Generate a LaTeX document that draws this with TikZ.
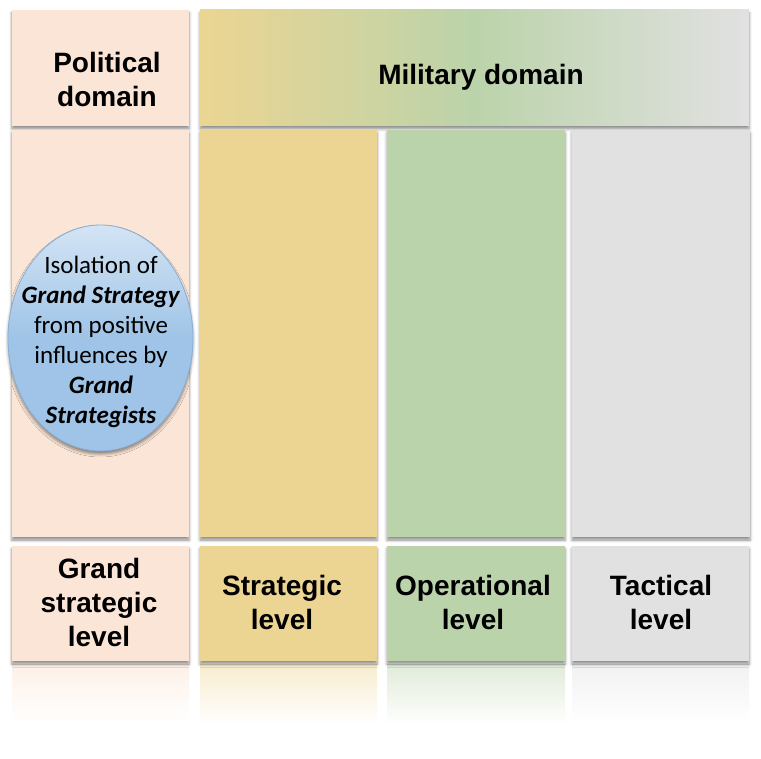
\documentclass[tikz,border=0pt]{standalone}
\usepackage{fontspec}
\setmainfont{Liberation Sans}
\newfontfamily\calibfont{Carlito}
\usetikzlibrary{shadows.blur}

\definecolor{polpeach}{HTML}{FBE5D6}
\definecolor{stratgold}{HTML}{ECD592}
\definecolor{opgreen}{HTML}{BBD3AA}
\definecolor{tacgray}{HTML}{E1E1E1}
\definecolor{ballblue}{HTML}{9FC4E7}
\definecolor{balltop}{HTML}{D3E4F4}
\definecolor{balledge}{HTML}{86AED8}

\tikzset{
    cell/.style={blur shadow={shadow xshift=0pt, shadow yshift=-3pt, shadow blur radius=3pt, shadow opacity=45}},
    heading/.style={font=\fontsize{28}{34}\selectfont\bfseries, align=center},
    balltext/.style={font=\calibfont\fontsize{25}{30}\selectfont, align=center}
}

\begin{document}
\begin{tikzpicture}[x=1pt, y=-1pt]
    \useasboundingbox (0,0) rectangle (761,759);

    % mirror of the bottom row
    \shade[top color=polpeach!55!white, bottom color=white] (12,664) rectangle (189,724);
    \shade[top color=stratgold!45!white, bottom color=white] (200,664) rectangle (377,724);
    \shade[top color=opgreen!45!white, bottom color=white] (387,664) rectangle (565,724);
    \shade[top color=tacgray!45!white, bottom color=white] (572,664) rectangle (749,724);

    % domains
    \fill[polpeach, cell] (12,10) rectangle (189,126);
    \shade[cell, left color=stratgold, right color=tacgray, middle color=opgreen] (200,10) rectangle (749,126);

    % columns
    \fill[polpeach, cell] (12,130) rectangle (189,537);
    \fill[stratgold, cell] (200,130) rectangle (377,537);
    \fill[opgreen, cell] (387,130) rectangle (565,537);
    \fill[tacgray, cell] (572,130) rectangle (750,537);

    % levels
    \fill[polpeach, cell] (12,546) rectangle (189,661);
    \fill[stratgold, cell] (200,546) rectangle (377,661);
    \fill[opgreen, cell] (387,546) rectangle (565,661);
    \fill[tacgray, cell] (572,546) rectangle (749,661);

    \node[heading] (political) at (107,79) {Political\\domain};
    \node[heading] (military) at (481,77) {Military domain};
    \node[heading] (grandlevel) at (99,602) {Grand\\strategic\\level};
    \node[heading] (strategic) at (282,602) {Strategic\\level};
    \node[heading] (operational) at (473,602) {Operational\\level};
    \node[heading] (tactical) at (661,602) {Tactical\\level};

    % the ball
    \shade[cell, top color=balltop, bottom color=ballblue, middle color=ballblue, draw=balledge, line width=0.8pt]
        (100.5,338) ellipse [x radius=92.5pt, y radius=113pt];
    \node[balltext] (isolation) at (101,342) {Isolation of\\\textbf{\textit{Grand Strategy}}\\from positive\\influences by\\\textbf{\textit{Grand}}\\\textbf{\textit{Strategists}}};
\end{tikzpicture}
\end{document}
